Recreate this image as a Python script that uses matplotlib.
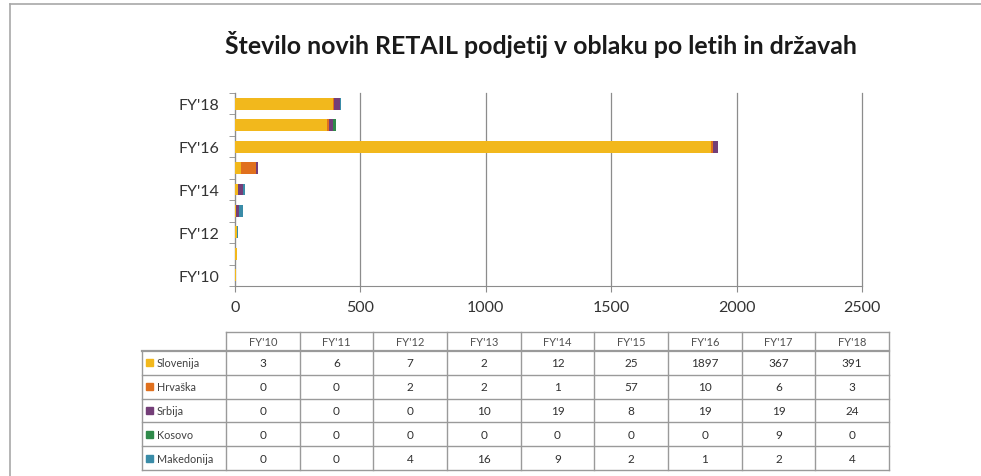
import matplotlib
matplotlib.use("Agg")
import matplotlib.pyplot as plt
import numpy as np
from matplotlib.lines import Line2D
from matplotlib.patches import Rectangle

years = ["FY'10", "FY'11", "FY'12", "FY'13", "FY'14", "FY'15", "FY'16", "FY'17", "FY'18"]
countries = ["Slovenija", "Hrvaška", "Srbija", "Kosovo", "Makedonija"]
slovenija = [3, 6, 7, 2, 12, 25, 1897, 367, 391]
hrvaska = [0, 0, 2, 2, 1, 57, 10, 6, 3]
srbija = [0, 0, 0, 10, 19, 8, 19, 19, 24]
kosovo = [0, 0, 0, 0, 0, 0, 0, 9, 0]
makedonija = [0, 0, 4, 16, 9, 2, 1, 2, 4]
series = [slovenija, hrvaska, srbija, kosovo, makedonija]
colors = ["#F2B81C", "#E0701E", "#743E78", "#2F8A4A", "#3A8CA8"]
title = "Število novih RETAIL podjetij v oblaku po letih in državah"
xticks = [0, 500, 1000, 1500, 2000, 2500]

W, H = 981, 477
fig = plt.figure(figsize=(W / 100, H / 100), dpi=100)
plt.rcParams['font.family'] = ['Lato', 'DejaVu Sans']

def fx(px):
    return px / W

def fy(py):
    return 1 - py / H

# outer frame lines (top and left)
fig.add_artist(Line2D([fx(10), 1], [fy(5), fy(5)], color="#A8A8A8", lw=1.2))
fig.add_artist(Line2D([fx(10), fx(10)], [fy(5), 0], color="#A8A8A8", lw=1.2))

fig.text(fx(541), fy(44), title, ha="center", va="center", fontsize=17.9,
         fontweight="bold", color="#1a1a1a")

# bar chart
ax = fig.add_axes([fx(235), fy(287), fx(862) - fx(235), fy(94) - fy(287)])
y = np.arange(len(years))
left = np.zeros(len(years))
for vals, c in zip(series, colors):
    ax.barh(y, vals, left=left, height=0.55, color=c, zorder=3)
    left += np.array(vals)
ax.set_xlim(0, 2500)
ax.set_ylim(-0.5, len(years) - 0.5)
ax.set_xticks(xticks)
ax.set_xticklabels([str(t) for t in xticks], fontsize=11.5, color="#333333")
ax.set_yticks(y[::2])
ax.set_yticklabels(years[::2], fontsize=11.5, color="#333333")
ax.set_yticks(np.arange(-0.5, len(years), 1), minor=True)
ax.tick_params(axis="y", which="major", length=0, pad=11)
ax.tick_params(axis="y", which="minor", length=4, color="#8C8C8C")
ax.tick_params(axis="x", which="major", length=4, color="#8C8C8C", pad=6)
ax.grid(axis="x", color="#8C8C8C", lw=0.9, zorder=0)
for gl in ax.get_xgridlines():
    gl.set_clip_on(False)
for s in ["top", "right"]:
    ax.spines[s].set_visible(False)
for s in ["left", "bottom"]:
    ax.spines[s].set_color("#8C8C8C")

# data table
tab = fig.add_axes([0, 0, 1, 1], facecolor="none")
tab.set_xlim(0, W)
tab.set_ylim(H, 0)
tab.axis("off")
x0, xc, x1 = 142, 226, 889
ytop, yhead = 333, 352
rowh = 23.8
ncol = len(years)
colw = (x1 - xc) / ncol
ybot = yhead + rowh * len(countries)
lc = "#9A9A9A"
# horizontal lines
tab.plot([xc, x1], [ytop, ytop], color=lc, lw=1)
tab.plot([x0, x1], [yhead, yhead], color=lc, lw=1.6)
for i in range(1, len(countries) + 1):
    tab.plot([x0, x1], [yhead + i * rowh] * 2, color=lc, lw=1)
# vertical lines
tab.plot([x0, x0], [yhead, ybot], color=lc, lw=1)
for j in range(ncol + 1):
    tab.plot([xc + j * colw] * 2, [ytop, ybot], color=lc, lw=1)
for j, yr in enumerate(years):
    tab.text(xc + (j + 0.5) * colw, (ytop + yhead) / 2, yr, ha="center", va="center",
             fontsize=8, color="#505050")
for i, (name, vals, c) in enumerate(zip(countries, series, colors)):
    yc = yhead + (i + 0.5) * rowh
    tab.add_patch(Rectangle((146, yc - 3.5), 7, 7, color=c))
    tab.text(157, yc, name, ha="left", va="center", fontsize=7.8, color="#404040")
    for j, v in enumerate(vals):
        tab.text(xc + (j + 0.5) * colw, yc, str(v), ha="center", va="center",
                 fontsize=8.5, color="#303030")

fig.savefig("out.png", dpi=100)
